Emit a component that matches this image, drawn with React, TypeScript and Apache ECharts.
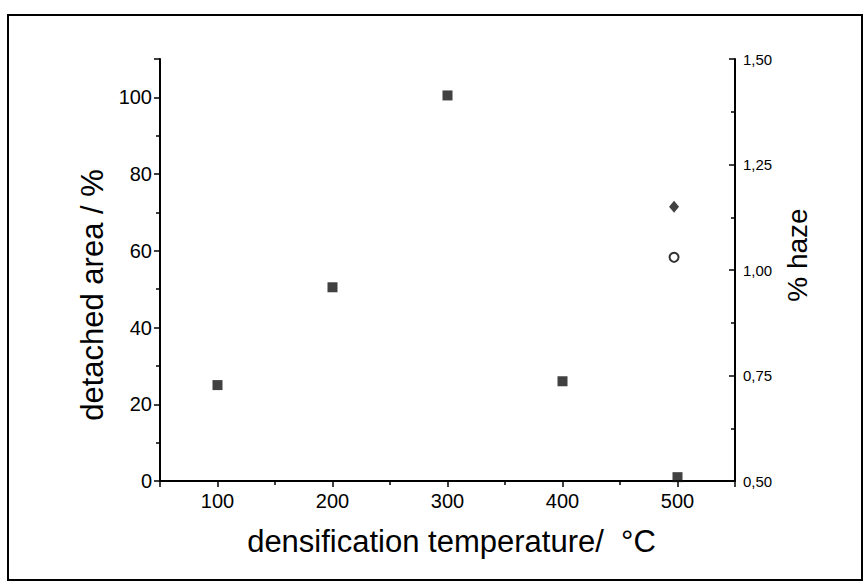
import React, { useEffect, useRef } from "react";
import * as echarts from "echarts";

const temperatures = [100, 200, 300, 400, 500];
const detachedArea = [25, 50.5, 100.5, 26, 1];
const hazeTemperature = [497];
const hazeDiamond = [1.15];
const hazeCircle = [1.03];

const FONT = "'Liberation Sans', Arial, Helvetica, sans-serif";

export default function App() {
  const ref = useRef<HTMLDivElement>(null);
  useEffect(() => {
    document.body.style.margin = "0";
    const chart = echarts.init(ref.current!, null, { renderer: "svg" });
    const axisLine = { show: true, onZero: false, lineStyle: { color: "#000", width: 2 } };
    chart.setOption({
      animation: false,
      backgroundColor: "#fff",
      textStyle: { fontFamily: FONT },
      grid: { left: 160, right: 130, top: 59, bottom: 105 },
      graphic: [
        {
          type: "rect",
          shape: { x: 8, y: 15, width: 854, height: 565 },
          style: { fill: "none", stroke: "#000", lineWidth: 2 },
          silent: true,
        },
      ],
      xAxis: {
        type: "value",
        min: 50,
        max: 550,
        splitNumber: 5,
        name: "densification temperature/  °C",
        nameLocation: "middle",
        nameGap: 45,
        nameTextStyle: { fontSize: 31, color: "#000", fontFamily: FONT, padding: [0, 0, 0, 8] },
        axisLine,
        axisTick: { show: true, length: 6, lineStyle: { color: "#000", width: 1.5 } },
        minorTick: { show: true, splitNumber: 2, length: 4, lineStyle: { color: "#000", width: 1.5 } },
        axisLabel: { fontSize: 20, color: "#000", margin: 10, showMinLabel: false, showMaxLabel: false, fontFamily: FONT },
        splitLine: { show: false },
      },
      yAxis: [
        {
          type: "value",
          min: 0,
          max: 110,
          interval: 20,
          position: "left",
          name: "detached area / %",
          nameLocation: "middle",
          nameRotate: 90,
          nameGap: 52,
          nameTextStyle: { fontSize: 31, color: "#000", fontFamily: FONT, padding: [0, 50, 0, 0] },
          axisLine,
          axisTick: { show: true, length: 6, lineStyle: { color: "#000", width: 1.5 } },
          minorTick: { show: true, splitNumber: 2, length: 4, lineStyle: { color: "#000", width: 1.5 } },
          axisLabel: { fontSize: 20, color: "#000", margin: 8, showMaxLabel: false, fontFamily: FONT },
          splitLine: { show: false },
        },
        {
          type: "value",
          min: 0.5,
          max: 1.5,
          interval: 0.25,
          position: "right",
          name: "% haze",
          nameLocation: "middle",
          nameRotate: 90,
          nameGap: 48,
          nameTextStyle: { fontSize: 28, color: "#000", fontFamily: FONT, padding: [0, 0, 0, 30] },
          axisLine,
          axisTick: { show: true, inside: true, length: 6, lineStyle: { color: "#000", width: 1.5 } },
          minorTick: { show: true, splitNumber: 2, length: 4, lineStyle: { color: "#000", width: 1.5 } },
          axisLabel: {
            fontSize: 15,
            color: "#000",
            margin: 8,
            fontFamily: FONT,
            formatter: (v: number) => v.toFixed(2).replace(".", ","),
          },
          splitLine: { show: false },
        },
      ],
      series: [
        {
          type: "scatter",
          yAxisIndex: 0,
          symbol: "rect",
          symbolSize: 10,
          itemStyle: { color: "#111" },
          data: temperatures.map((t, i) => [t, detachedArea[i]]),
        },
        {
          type: "scatter",
          yAxisIndex: 1,
          symbol: "diamond",
          symbolSize: [10, 12],
          itemStyle: { color: "#111" },
          data: hazeTemperature.map((t, i) => [t, hazeDiamond[i]]),
        },
        {
          type: "scatter",
          yAxisIndex: 1,
          symbol: "circle",
          symbolSize: 9,
          itemStyle: { color: "#fff", borderColor: "#000", borderWidth: 2 },
          data: hazeTemperature.map((t, i) => [t, hazeCircle[i]]),
        },
      ],
    });
    return () => chart.dispose();
  }, []);
  return <div ref={ref} style={{ width: 865, height: 586 }} />;
}
